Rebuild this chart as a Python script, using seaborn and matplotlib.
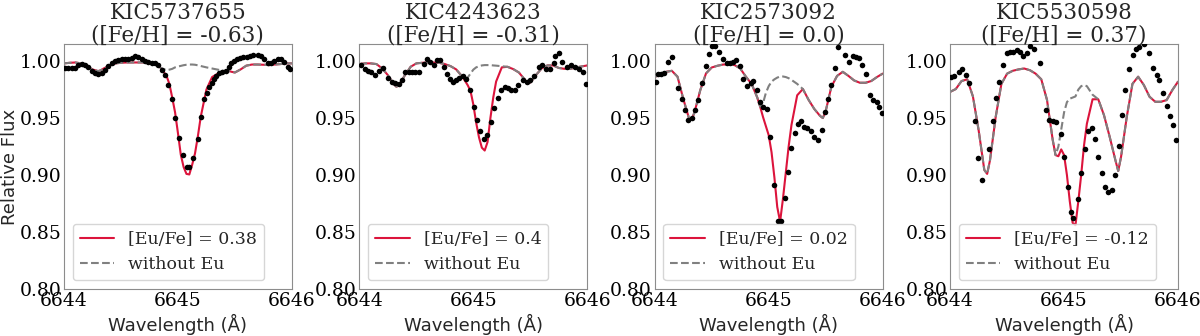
import numpy as np
import pandas as pd
import matplotlib
matplotlib.use('Agg')
import matplotlib.pyplot as plt
import seaborn as sns

# Panel metadata
stars = ['KIC5737655', 'KIC4243623', 'KIC2573092', 'KIC5530598']
feh = ['-0.63', '-0.31', '0.0', '0.37']
eufe = ['0.38', '0.4', '0.02', '-0.12']

# Synthetic spectra grid
model_wl = [6644.00, 6644.05, 6644.10, 6644.15, 6644.20, 6644.25, 6644.30, 6644.325,
            6644.35, 6644.40, 6644.45, 6644.50, 6644.55, 6644.60, 6644.65, 6644.70,
            6644.75, 6644.80, 6644.85, 6644.90, 6644.925, 6644.95, 6644.975, 6645.00,
            6645.025, 6645.05, 6645.075, 6645.10, 6645.125, 6645.15, 6645.175, 6645.20,
            6645.25, 6645.30, 6645.35, 6645.40, 6645.45, 6645.475, 6645.50, 6645.55,
            6645.60, 6645.65, 6645.70, 6645.75, 6645.80, 6645.85, 6645.90, 6645.95, 6646.00]

# with Eu
red1 = [0.998, 0.9985, 0.9988, 0.998, 0.9956, 0.9927, 0.9912, 0.992,
        0.9936, 0.996, 0.998, 0.9985, 0.9988, 0.9988, 0.9988, 0.9988,
        0.9985, 0.998, 0.994, 0.987, 0.980, 0.968, 0.955, 0.937,
        0.918, 0.907, 0.901, 0.9005, 0.909, 0.919, 0.934, 0.951,
        0.975, 0.986, 0.989, 0.991, 0.9912, 0.9905, 0.990, 0.9927,
        0.996, 0.997, 0.997, 0.9968, 0.9965, 0.997, 0.9974, 0.998, 0.998]
red2 = [0.9974, 0.998, 0.998, 0.9974, 0.9936, 0.9877, 0.980, 0.9775,
        0.979, 0.9877, 0.995, 0.998, 0.9985, 0.9988, 0.9988, 0.9985,
        0.9974, 0.9956, 0.9927, 0.9868, 0.983, 0.979, 0.974, 0.962,
        0.946, 0.933, 0.924, 0.9215, 0.929, 0.950, 0.968, 0.982,
        0.9945, 0.995, 0.993, 0.990, 0.984, 0.9805, 0.981, 0.9878,
        0.9936, 0.9962, 0.9962, 0.994, 0.9932, 0.9932, 0.9944, 0.9953, 0.9962]
red3 = [0.9863, 0.9877, 0.9906, 0.9915, 0.9863, 0.967, 0.950, 0.9485,
        0.9556, 0.9746, 0.9892, 0.9944, 0.9959, 0.997, 0.997, 0.9965,
        0.9936, 0.9863, 0.980, 0.968, 0.960, 0.951, 0.943, 0.935,
        0.920, 0.898, 0.872, 0.859, 0.879, 0.902, 0.925, 0.944,
        0.970, 0.9755, 0.966, 0.958, 0.952, 0.950, 0.956, 0.9775,
        0.987, 0.9906, 0.987, 0.983, 0.981, 0.981, 0.9825, 0.986, 0.989]
red4 = [0.973, 0.9755, 0.9825, 0.984, 0.969, 0.9395, 0.9045, 0.901,
        0.913, 0.951, 0.980, 0.989, 0.9915, 0.9927, 0.9935, 0.992,
        0.989, 0.984, 0.966, 0.931, 0.9175, 0.9165, 0.9225, 0.9175,
        0.900, 0.877, 0.858, 0.856, 0.877, 0.900, 0.926, 0.945,
        0.9665, 0.9665, 0.9526, 0.9336, 0.9132, 0.9035, 0.916, 0.951,
        0.980, 0.9863, 0.979, 0.9687, 0.9643, 0.9643, 0.9658, 0.9746, 0.982]

# without Eu
gray1 = [0.998, 0.9985, 0.9988, 0.998, 0.9956, 0.9927, 0.9912, 0.992,
         0.9936, 0.996, 0.998, 0.9985, 0.9988, 0.9988, 0.9988, 0.9988,
         0.9985, 0.998, 0.994, 0.992, 0.9925, 0.9932, 0.9945, 0.9952,
         0.9958, 0.9964, 0.9968, 0.997, 0.997, 0.9968, 0.9963, 0.9957,
         0.9945, 0.9935, 0.9925, 0.9915, 0.9912, 0.9905, 0.990, 0.9927,
         0.996, 0.997, 0.997, 0.9968, 0.9965, 0.997, 0.9974, 0.998, 0.998]
gray2 = [0.9974, 0.998, 0.998, 0.9974, 0.9936, 0.9877, 0.980, 0.9775,
         0.979, 0.9877, 0.995, 0.998, 0.9985, 0.9988, 0.9988, 0.9985,
         0.9974, 0.9956, 0.9927, 0.9868, 0.9845, 0.9855, 0.989, 0.9925,
         0.9945, 0.9955, 0.9962, 0.9965, 0.9965, 0.9965, 0.9962, 0.996,
         0.9955, 0.995, 0.993, 0.990, 0.984, 0.9805, 0.981, 0.9878,
         0.9936, 0.9962, 0.9962, 0.994, 0.9932, 0.9932, 0.9944, 0.9953, 0.9962]
gray3 = [0.9863, 0.9877, 0.9906, 0.9915, 0.9863, 0.967, 0.950, 0.9485,
         0.9556, 0.9746, 0.9892, 0.9944, 0.9959, 0.997, 0.997, 0.9965,
         0.9936, 0.9863, 0.980, 0.968, 0.960, 0.963, 0.972, 0.978,
         0.982, 0.984, 0.9855, 0.9865, 0.9865, 0.986, 0.985, 0.9835,
         0.980, 0.9755, 0.966, 0.958, 0.952, 0.950, 0.956, 0.9775,
         0.987, 0.9906, 0.987, 0.983, 0.981, 0.981, 0.9825, 0.986, 0.989]
gray4 = [0.973, 0.9755, 0.9825, 0.984, 0.969, 0.9395, 0.9045, 0.901,
         0.913, 0.951, 0.980, 0.989, 0.9915, 0.9927, 0.9935, 0.992,
         0.989, 0.984, 0.966, 0.931, 0.9175, 0.925, 0.940, 0.955,
         0.964, 0.967, 0.968, 0.969, 0.975, 0.978, 0.979, 0.978,
         0.9705, 0.9665, 0.9526, 0.9336, 0.9132, 0.9035, 0.916, 0.951,
         0.980, 0.9863, 0.979, 0.9687, 0.9643, 0.9643, 0.9658, 0.9746, 0.982]

# Observed spectra
obs_wl1 = [6644.009, 6644.038, 6644.067, 6644.096, 6644.126, 6644.155, 6644.184, 6644.213,
           6644.243, 6644.272, 6644.301, 6644.330, 6644.360, 6644.389, 6644.418, 6644.447,
           6644.477, 6644.506, 6644.535, 6644.564, 6644.594, 6644.623, 6644.652, 6644.681,
           6644.711, 6644.740, 6644.769, 6644.798, 6644.827, 6644.857, 6644.886, 6644.915,
           6644.944, 6644.974, 6645.010, 6645.047, 6645.076, 6645.096, 6645.134, 6645.172,
           6645.202, 6645.231, 6645.254, 6645.272, 6645.295, 6645.316, 6645.336, 6645.360,
           6645.389, 6645.418, 6645.445, 6645.470, 6645.494, 6645.515, 6645.544, 6645.573,
           6645.602, 6645.632, 6645.661, 6645.699, 6645.728, 6645.757, 6645.787, 6645.816,
           6645.845, 6645.874, 6645.904, 6645.933, 6645.968, 6645.982]
obs_fx1 = [0.9936, 0.9936, 0.9936, 0.9942, 0.9962, 0.9974, 0.9965, 0.9944,
           0.9915, 0.9892, 0.9886, 0.9898, 0.9921, 0.9956, 0.9985, 1.0003,
           1.0009, 1.0015, 1.0015, 1.0020, 1.0029, 1.0044, 1.0032, 1.0015,
           1.0003, 0.9994, 0.9985, 0.9980, 0.9962, 0.9921, 0.9877, 0.9790,
           0.9664, 0.9497, 0.9322, 0.9175, 0.9073, 0.9067, 0.9152, 0.9313,
           0.9512, 0.9664, 0.9716, 0.9775, 0.9810, 0.9839, 0.9868, 0.9892,
           0.9906, 0.9915, 0.9950, 0.9985, 1.0003, 1.0015, 1.0023, 1.0032,
           1.0038, 1.0044, 1.0050, 1.0056, 1.0044, 1.0015, 0.9985, 0.9985,
           1.0003, 1.0015, 1.0018, 0.9994, 0.9944, 0.9927]

obs_wl2 = [6644.018, 6644.050, 6644.080, 6644.105, 6644.140, 6644.170, 6644.205, 6644.251,
           6644.287, 6644.316, 6644.345, 6644.374, 6644.404, 6644.433, 6644.462, 6644.492,
           6644.521, 6644.564, 6644.594, 6644.623, 6644.652, 6644.681, 6644.711, 6644.740,
           6644.766, 6644.795, 6644.824, 6644.848, 6644.877, 6644.906, 6644.935, 6644.974,
           6645.003, 6645.032, 6645.061, 6645.091, 6645.120, 6645.155, 6645.184, 6645.219,
           6645.246, 6645.275, 6645.304, 6645.333, 6645.363, 6645.392, 6645.436, 6645.471,
           6645.500, 6645.529, 6645.573, 6645.602, 6645.640, 6645.675, 6645.705, 6645.720,
           6645.750, 6645.780, 6645.822, 6645.860, 6645.890, 6645.925, 6645.963, 6645.990]
obs_fx2 = [0.9965, 0.9930, 0.9910, 0.9900, 0.9877, 0.9910, 0.9936, 0.9848,
           0.9819, 0.9810, 0.9800, 0.9833, 0.9906, 0.9906, 0.9906, 0.9906,
           0.9906, 0.9974, 1.0015, 0.9994, 0.9965, 1.0009, 1.0009, 0.9950,
           0.9890, 0.9840, 0.9819, 0.9830, 0.9850, 0.9870, 0.9840, 0.9750,
           0.9600, 0.9480, 0.9390, 0.9320, 0.9350, 0.9468, 0.9585, 0.9680,
           0.9746, 0.9775, 0.9760, 0.9746, 0.9750, 0.9790, 0.9830, 0.9820,
           0.9830, 0.9870, 0.9950, 0.9965, 0.9935, 0.9935, 0.9980, 1.0044,
           1.0073, 0.9990, 0.9945, 0.9970, 0.9945, 0.9935, 0.9900, 0.9800]

obs_wl3 = [6644.009, 6644.032, 6644.056, 6644.085, 6644.120, 6644.149, 6644.208, 6644.237,
           6644.266, 6644.295, 6644.325, 6644.354, 6644.383, 6644.418, 6644.447, 6644.477,
           6644.506, 6644.529, 6644.564, 6644.596, 6644.632, 6644.661, 6644.690, 6644.713,
           6644.749, 6644.778, 6644.807, 6644.842, 6644.865, 6644.895, 6644.924, 6644.953,
           6644.982, 6645.015, 6645.047, 6645.078, 6645.105, 6645.143, 6645.172, 6645.200,
           6645.231, 6645.254, 6645.284, 6645.313, 6645.339, 6645.371, 6645.401, 6645.430,
           6645.465, 6645.494, 6645.523, 6645.550, 6645.580, 6645.610, 6645.670, 6645.705,
           6645.737, 6645.763, 6645.792, 6645.822, 6645.851, 6645.889, 6645.918, 6645.947,
           6645.971, 6645.991]
obs_fx3 = [0.9820, 0.9883, 0.9883, 0.9892, 0.9994, 1.0038, 0.9760, 0.9664,
           0.9570, 0.9480, 0.9500, 0.9570, 0.9658, 0.9810, 0.9956, 1.0060,
           1.0130, 1.0130, 1.0080, 1.0015, 0.9985, 0.9985, 0.9994, 1.0009,
           0.9956, 0.9840, 0.9784, 0.9810, 0.9827, 0.9746, 0.9640, 0.9600,
           0.9580, 0.9336, 0.8910, 0.8600, 0.8600, 0.8795, 0.9030, 0.9240,
           0.9365, 0.9450, 0.9470, 0.9424, 0.9410, 0.9390, 0.9336, 0.9310,
           0.9395, 0.9556, 0.9670, 0.9790, 0.9936, 1.0126, 1.0053, 0.9994,
           1.0044, 1.0038, 1.0023, 0.9965, 0.9890, 0.9700, 0.9658, 0.9643,
           0.9600, 0.9547]

obs_wl4 = [6644.009, 6644.038, 6644.076, 6644.105, 6644.140, 6644.164, 6644.222, 6644.245,
           6644.284, 6644.345, 6644.374, 6644.404, 6644.433, 6644.468, 6644.497, 6644.526,
           6644.556, 6644.585, 6644.614, 6644.643, 6644.673, 6644.702, 6644.740, 6644.789,
           6644.842, 6644.871, 6644.900, 6644.930, 6644.974, 6645.003, 6645.032, 6645.061,
           6645.080, 6645.120, 6645.149, 6645.184, 6645.213, 6645.243, 6645.272, 6645.301,
           6645.330, 6645.363, 6645.389, 6645.418, 6645.447, 6645.480, 6645.509, 6645.535,
           6645.573, 6645.602, 6645.632, 6645.661, 6645.700, 6645.749, 6645.778, 6645.816,
           6645.836, 6645.865, 6645.904, 6645.933, 6645.959, 6645.982]
obs_fx4 = [0.9857, 0.9870, 0.9906, 0.9927, 0.9877, 0.9810, 0.9477, 0.9146,
           0.8956, 0.9225, 0.9474, 0.9678, 0.9813, 0.9962, 1.0067, 1.0082,
           1.0082, 1.0096, 1.0080, 1.0047, 1.0067, 1.0130, 1.0110, 0.9980,
           0.9570, 0.9480, 0.9477, 0.9468, 0.9357, 0.9155, 0.8898, 0.8678,
           0.8620, 0.8787, 0.9015, 0.9225, 0.9389, 0.9410, 0.9313, 0.9160,
           0.9015, 0.8898, 0.8854, 0.8868, 0.9000, 0.9257, 0.9526, 0.9746,
           0.9927, 1.0053, 1.0102, 1.0126, 1.0150, 1.0073, 0.9936, 0.9877,
           0.9830, 0.9720, 0.9605, 0.9518, 0.9439, 0.9307]

reds = [red1, red2, red3, red4]
grays = [gray1, gray2, gray3, gray4]
obs_wls = [obs_wl1, obs_wl2, obs_wl3, obs_wl4]
obs_fxs = [obs_fx1, obs_fx2, obs_fx3, obs_fx4]

sns.set_style('white', {'axes.edgecolor': '0.55'})
plt.rcParams['font.family'] = ['DejaVu Serif']

fig, axes = plt.subplots(1, 4, figsize=(12, 3.36), dpi=100)
fig.subplots_adjust(left=0.0533, right=0.9817, bottom=0.140, top=0.869, wspace=0.296)

for i, ax in enumerate(axes):
    model = pd.DataFrame({'wl': model_wl, 'with_eu': reds[i], 'no_eu': grays[i]})
    obs = pd.DataFrame({'wl': obs_wls[i], 'flux': obs_fxs[i]})

    sns.lineplot(data=model, x='wl', y='with_eu', ax=ax, color='crimson', lw=1.5,
                 sort=False, label=f'[Eu/Fe] = {eufe[i]}')
    sns.lineplot(data=model, x='wl', y='no_eu', ax=ax, color='gray', lw=1.5,
                 linestyle='--', sort=False, label='without Eu')
    sns.scatterplot(data=obs, x='wl', y='flux', ax=ax, color='black', s=16,
                    linewidth=0, zorder=3)

    ax.set_xlim(6644, 6646)
    ax.set_ylim(0.80, 1.015)
    ax.set_xticks([6644, 6645, 6646])
    ax.set_yticks([0.80, 0.85, 0.90, 0.95, 1.00])
    ax.tick_params(labelsize=13.5, length=0, pad=2, labelcolor='black')
    ax.set_title(f'{stars[i]}\n([Fe/H] = {feh[i]})', fontsize=15.5,
                 linespacing=1.0, pad=2)
    ax.set_xlabel('Wavelength (Å)', fontsize=13, family='DejaVu Sans', labelpad=3)
    if i == 0:
        ax.set_ylabel('Relative Flux', fontsize=13, family='DejaVu Sans', labelpad=0.5)
    else:
        ax.set_ylabel('')
    ax.legend(loc='lower left', fontsize=12.5)

fig.savefig('out.png', dpi=100)
plt.close()
